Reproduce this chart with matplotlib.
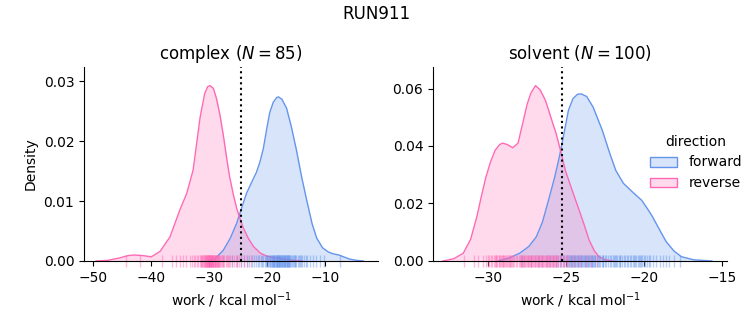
import matplotlib
matplotlib.use("Agg")
import matplotlib.pyplot as plt
from matplotlib.patches import Patch

# ---- data -------------------------------------------------------------
run_name = "RUN911"
directions = ["forward", "reverse"]
colors = {"forward": "cornflowerblue", "reverse": "hotpink"}

# complex phase: individual work values (kcal/mol)
complex_forward = [
    -26.1, -25.2, -24.6, -24.0, -23.5, -23.1, -22.7, -22.3, -22.0, -21.7,
    -21.4, -21.1, -20.9, -20.7, -20.5, -20.3, -20.1, -19.9, -19.8, -19.6,
    -19.5, -19.3, -19.2, -19.1, -19.0, -18.9, -18.8, -18.7, -18.6, -18.5,
    -18.4, -18.3, -18.2, -18.1, -18.0, -17.9, -17.8, -17.7, -17.6, -17.5,
    -17.4, -17.3, -17.2, -17.1, -17.0, -16.9, -16.8, -16.7, -16.6, -16.5,
    -16.4, -16.3, -16.2, -16.1, -15.9, -15.8, -15.6, -15.5, -15.3, -15.2,
    -15.0, -14.8, -14.6, -14.4, -14.2, -14.0, -13.7, -13.4, -13.1, -12.7,
    -12.2, -11.6, -11.0, -10.3, -7.5,
    -19.4, -18.85, -18.35, -17.95, -17.45, -17.05, -16.65, -16.25, -20.0, -18.05,
]
complex_reverse = [
    -44.3, -42.0, -38.2, -36.5, -35.7, -35.1, -34.5, -34.0, -33.4, -33.0,
    -32.7, -32.4, -32.1, -31.9, -31.7, -31.5, -31.3, -31.1, -30.9, -30.8,
    -30.7, -30.6, -30.5, -30.4, -30.3, -30.2, -30.1, -30.0, -29.9, -29.8,
    -29.7, -29.6, -29.5, -29.4, -29.3, -29.2, -29.1, -29.0, -28.9, -28.8,
    -28.7, -28.6, -28.5, -28.4, -28.3, -28.2, -28.0, -27.9, -27.7, -27.6,
    -27.4, -27.2, -27.0, -26.8, -26.6, -26.4, -26.1, -25.8, -25.5, -25.2,
    -24.9, -24.5, -24.1, -23.6, -22.8, -30.05, -29.95, -29.85, -30.15, -30.25,
    -29.55, -29.65, -29.45, -29.35, -31.0, -30.35, -30.45, -29.75, -29.05, -28.95,
    -28.65, -28.45, -31.2, -31.4, -30.55,
]

# solvent phase: individual work values (kcal/mol)
solvent_forward = [
    -27.8, -27.2, -26.8, -26.5, -26.2, -26.0, -25.8, -25.6, -25.4, -25.3,
    -25.2, -25.1, -25.0, -24.9, -24.8, -24.7, -24.65, -24.6, -24.5, -24.45,
    -24.4, -24.35, -24.3, -24.25, -24.2, -24.15, -24.1, -24.05, -24.0, -23.95,
    -23.9, -23.85, -23.8, -23.75, -23.7, -23.65, -23.6, -23.55, -23.5, -23.45,
    -23.4, -23.35, -23.3, -23.2, -23.1, -23.0, -22.9, -22.8, -22.7, -22.6,
    -22.5, -22.4, -22.3, -22.2, -22.1, -22.0, -21.9, -21.8, -21.7, -21.6,
    -21.5, -21.4, -21.3, -21.2, -21.0, -20.9, -20.8, -20.7, -20.6, -20.5,
    -20.4, -20.3, -20.2, -20.1, -20.0, -19.9, -19.8, -19.6, -19.4, -19.2,
    -19.0, -18.8, -18.6, -18.4, -18.1, -17.7, -24.75, -24.55, -23.25, -22.95,
    -21.85, -21.1, -20.65, -20.25, -19.7, -25.5, -24.85, -23.15, -22.65, -21.55,
]
solvent_reverse = [
    -31.5, -30.9, -30.6, -30.3, -30.1, -29.9, -29.8, -29.7, -29.6, -29.5,
    -29.4, -29.3, -29.2, -29.1, -29.0, -28.9, -28.8, -28.7, -28.6, -28.5,
    -28.4, -28.3, -28.2, -28.0, -27.9, -27.8, -27.7, -27.6, -27.5, -27.4,
    -27.35, -27.3, -27.25, -27.2, -27.15, -27.1, -27.05, -27.0, -26.95, -26.9,
    -26.85, -26.8, -26.75, -26.7, -26.65, -26.6, -26.55, -26.5, -26.45, -26.4,
    -26.3, -26.2, -26.1, -26.0, -25.9, -25.8, -25.7, -25.6, -25.5, -25.4,
    -25.3, -25.2, -25.1, -25.0, -24.9, -24.8, -24.6, -24.4, -24.2, -24.0,
    -23.7, -23.4, -23.0, -29.45, -29.15, -28.95, -29.25, -28.65, -29.55, -28.85,
    -27.45, -27.55, -27.65, -26.25, -26.35, -26.15, -27.75, -28.15, -29.05, -30.0,
    -28.55, -28.45, -27.85, -27.95, -26.05, -25.95, -25.75, -25.85, -25.65, -25.55,
]

# estimated density curves (work, density)
complex_forward_kde_x = [-30.5, -29.0, -27.6, -26.4, -25.3, -24.4, -23.6, -22.7, -21.9, -21.3,
                         -20.7, -20.1, -19.6, -19.0, -18.4, -18.1, -17.5, -16.7, -15.9, -15.0,
                         -14.1, -13.2, -12.3, -11.5, -10.5, -9.5, -8.7, -7.7, -6.9, -5.8,
                         -4.6, -3.5]
complex_forward_kde_y = [0.0, 0.0004, 0.0018, 0.0038, 0.0063, 0.0090, 0.0113, 0.0132, 0.0148, 0.0165,
                         0.0188, 0.0222, 0.0248, 0.0265, 0.0273, 0.0274, 0.0270, 0.0255, 0.0225, 0.0185,
                         0.0140, 0.0100, 0.0062, 0.0038, 0.0022, 0.0015, 0.0012, 0.0010, 0.0007, 0.0003,
                         0.0001, 0.0]
complex_reverse_kde_x = [-49.5, -47.5, -45.5, -44.0, -43.0, -41.5, -40.0, -38.5, -36.8, -35.1,
                         -33.9, -32.8, -32.2, -31.6, -30.8, -30.3, -29.9, -29.3, -28.8, -28.2,
                         -27.6, -27.0, -26.5, -25.9, -25.3, -24.7, -24.2, -23.3, -22.4, -21.2,
                         -20.1, -18.5, -17.0, -15.5, -14.0]
complex_reverse_kde_y = [0.0, 0.0001, 0.0005, 0.0009, 0.0010, 0.0009, 0.0007, 0.0016, 0.0040, 0.0085,
                         0.0113, 0.0152, 0.0196, 0.0240, 0.0280, 0.0291, 0.0293, 0.0288, 0.0272, 0.0245,
                         0.0210, 0.0170, 0.0140, 0.0112, 0.0088, 0.0070, 0.0056, 0.0038, 0.0024, 0.0013,
                         0.0008, 0.0005, 0.0003, 0.0001, 0.0]

solvent_forward_kde_x = [-29.33, -28.65, -27.96, -27.38, -26.89, -26.50, -26.11, -25.72, -25.42, -25.13,
                         -24.83, -24.54, -24.25, -24.00, -23.66, -23.25, -22.66, -22.19, -21.80, -21.31,
                         -20.73, -20.14, -19.75, -19.45, -18.96, -18.57, -18.08, -17.60, -16.81, -15.64]
solvent_forward_kde_y = [0.0, 0.0010, 0.0027, 0.0050, 0.0084, 0.0135, 0.0211, 0.0290, 0.0361, 0.0440,
                         0.0525, 0.0565, 0.0580, 0.0581, 0.0572, 0.0535, 0.0454, 0.0375, 0.0315, 0.0270,
                         0.0240, 0.0211, 0.0180, 0.0154, 0.0105, 0.0067, 0.0035, 0.0015, 0.0004, 0.0]
solvent_reverse_kde_x = [-32.86, -32.17, -31.57, -31.10, -30.70, -30.41, -30.12, -29.82, -29.53, -29.24,
                         -29.04, -28.75, -28.40, -28.06, -27.77, -27.48, -27.23, -26.94, -26.64, -26.30,
                         -25.96, -25.62, -25.32, -25.03, -24.59, -24.15, -23.79, -23.51, -23.17, -22.88,
                         -22.49, -22.00]
solvent_reverse_kde_y = [0.0, 0.0008, 0.0027, 0.0075, 0.0154, 0.0225, 0.0292, 0.0345, 0.0385, 0.0405,
                         0.0410, 0.0405, 0.0394, 0.0410, 0.0477, 0.0545, 0.0585, 0.0610, 0.0595, 0.0558,
                         0.0500, 0.0443, 0.0380, 0.0315, 0.0245, 0.0177, 0.0120, 0.0073, 0.0035, 0.0015,
                         0.0004, 0.0]

# free energy estimates (dotted reference lines)
complex_dg = -24.57
solvent_dg = -25.24

phases = [
    dict(name="complex",
         samples={"forward": complex_forward, "reverse": complex_reverse},
         kde={"forward": (complex_forward_kde_x, complex_forward_kde_y),
              "reverse": (complex_reverse_kde_x, complex_reverse_kde_y)},
         dg=complex_dg, xlim=(-51.6, -0.95), ylim=(0, 0.0324),
         xticks=[-50, -40, -30, -20, -10], yticks=[0.0, 0.01, 0.02, 0.03]),
    dict(name="solvent",
         samples={"forward": solvent_forward, "reverse": solvent_reverse},
         kde={"forward": (solvent_forward_kde_x, solvent_forward_kde_y),
              "reverse": (solvent_reverse_kde_x, solvent_reverse_kde_y)},
         dg=solvent_dg, xlim=(-33.51, -14.68), ylim=(0, 0.0675),
         xticks=[-30, -25, -20, -15], yticks=[0.0, 0.02, 0.04, 0.06]),
]

# ---- figure -----------------------------------------------------------
fig = plt.figure(figsize=(7.53, 3.25), dpi=100)
axes = [fig.add_axes([0.1116, 0.197, 0.3904, 0.597]),
        fig.add_axes([0.5750, 0.197, 0.3904, 0.597])]

for ax, ph in zip(axes, phases):
    for d in directions:
        xs, ys = ph["kde"][d]
        c = colors[d]
        ax.fill_between(xs, ys, 0, color=c, alpha=0.25, linewidth=0)
        ax.plot(xs, ys, color=c, linewidth=1.0, solid_joinstyle="round")
    for d in directions:
        ax.plot(ph["samples"][d], [0] * len(ph["samples"][d]), "|",
                color=colors[d], alpha=0.45, markersize=9, markeredgewidth=1.0,
                transform=ax.get_xaxis_transform(), clip_on=False)
    ax.axvline(ph["dg"], color="black", linestyle=":", linewidth=1.5)
    n = len(ph["samples"]["forward"])
    ax.set_title(f"{ph['name']} ($N = {n}$)", fontsize=12)
    ax.set_xlim(*ph["xlim"])
    ax.set_ylim(*ph["ylim"])
    ax.set_xticks(ph["xticks"])
    ax.set_yticks(ph["yticks"])
    ax.set_xlabel("work / kcal mol$^{-1}$")
    for s in ("top", "right"):
        ax.spines[s].set_visible(False)
    ax.yaxis.set_major_formatter(matplotlib.ticker.FormatStrFormatter("%.2f"))

axes[0].set_ylabel("Density")

handles = [Patch(facecolor=matplotlib.colors.to_rgba(colors[d], 0.25),
                 edgecolor=colors[d]) for d in directions]
fig.legend(handles, directions, title="direction", loc="center left",
           bbox_to_anchor=(0.846, 0.50), frameon=False, fontsize=10, title_fontsize=10)

fig.suptitle(run_name, fontsize=12, y=0.985)
fig.savefig("out.png", dpi=100)
